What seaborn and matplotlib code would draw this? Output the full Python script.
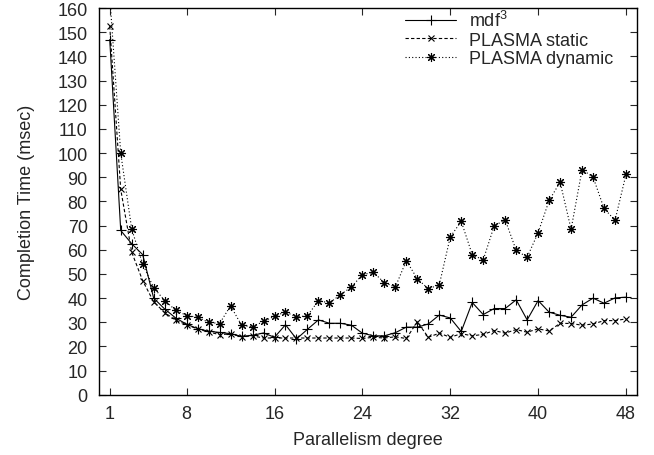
import numpy as np
import pandas as pd
import matplotlib
matplotlib.use("Agg")
import matplotlib.pyplot as plt
import seaborn as sns

# Parallelism degree 1..48
degree = list(range(1, 49))

mdf3 = [147, 68, 62.5, 58, 40, 35.5, 31.8, 29.2, 27.4, 26.3, 25.8, 25.3,
        24.2, 24.6, 25.6, 23.8, 29, 23.1, 27.1, 31, 29.6, 29.6, 28.8, 25.5,
        24.4, 24.4, 25.7, 28, 28, 29.3, 33, 31.8, 26.2, 38.2, 33.2, 35.7,
        35.7, 39.3, 31, 39, 34.2, 32.9, 32.1, 37.2, 40, 37.9, 40.1, 40.4]

plasma_static = [152.5, 85, 59, 47.2, 38.5, 34, 30.9, 29, 27.2, 26, 24.9, 25.2,
                 24, 24.4, 23.5, 23.5, 23.5, 23.5, 23.5, 23.5, 23.5, 23.5, 23.5, 23.3,
                 23.8, 23.5, 24, 23.3, 30.2, 23.8, 25.5, 23.8, 25.3, 24.4, 25, 26.6,
                 25.5, 27, 25.9, 27.3, 26.4, 29.6, 29.5, 28.8, 29.3, 30.7, 30.7, 31.4]

plasma_dynamic = [165, 100, 68.6, 54, 44.3, 39, 35, 32.8, 32.1, 30, 29.5, 36.8,
                  28.8, 28.1, 30.4, 32.5, 34.3, 32.2, 32.7, 39, 38, 41.4, 44.6, 49.7,
                  50.7, 46.4, 44.6, 55.5, 48, 43.9, 45.5, 65.3, 71.8, 58, 55.8, 69.9,
                  72.4, 59.8, 56.9, 67.1, 80.4, 88, 68.5, 93.2, 90.1, 77.1, 72.2, 91.2]

series_names = ["mdf$^3$", "PLASMA static", "PLASMA dynamic"]
x_ticks = [1, 8, 16, 24, 32, 40, 48]

df = pd.DataFrame({
    "degree": degree * 3,
    "time": mdf3 + plasma_static + plasma_dynamic,
    "series": [s for s in series_names for _ in degree],
})

sns.set_style("ticks")
plt.rcParams["font.family"] = ["Liberation Sans", "DejaVu Sans"]
plt.rcParams["mathtext.fontset"] = "custom"
plt.rcParams["mathtext.rm"] = "Liberation Sans"

fig = plt.figure(figsize=(6.54, 4.56), dpi=100)
ax = fig.add_axes([0.151, 0.132, 0.823, 0.848])

styles = {
    "mdf$^3$": dict(linestyle="-", marker="+", markersize=7),
    "PLASMA static": dict(linestyle=(0, (3, 2)), marker="x", markersize=5),
    "PLASMA dynamic": dict(linestyle=(0, (1, 2)), marker=(8, 2, 0), markersize=6.5),
}

for name in series_names:
    st = styles[name]
    sns.lineplot(data=df[df["series"] == name], x="degree", y="time", ax=ax,
                 color="black", linewidth=0.8, label=name,
                 linestyle=st["linestyle"], marker=st["marker"],
                 markersize=st["markersize"], markeredgewidth=0.8,
                 markeredgecolor="black")

ax.set_xlim(0, 49)
ax.set_ylim(0, 160)
ax.set_xticks(x_ticks)
ax.set_yticks(np.arange(0, 161, 10))
ax.tick_params(direction="in", top=True, right=True, labelsize=13, length=5, width=0.8)
ax.tick_params(axis="y", pad=8)
ax.tick_params(axis="x", pad=7)
for sp in ax.spines.values():
    sp.set_linewidth(1.0)
    sp.set_color("black")
ax.set_xlabel("Parallelism degree", fontsize=13, labelpad=7)
ax.set_ylabel("Completion Time (msec)", fontsize=13, labelpad=16)

leg = ax.legend(loc="upper right", bbox_to_anchor=(0.955, 0.995), frameon=False,
                fontsize=13, handlelength=2.8, handletextpad=0.7, labelspacing=0.08,
                borderpad=0, borderaxespad=0)

fig.savefig("out.png", dpi=100)
